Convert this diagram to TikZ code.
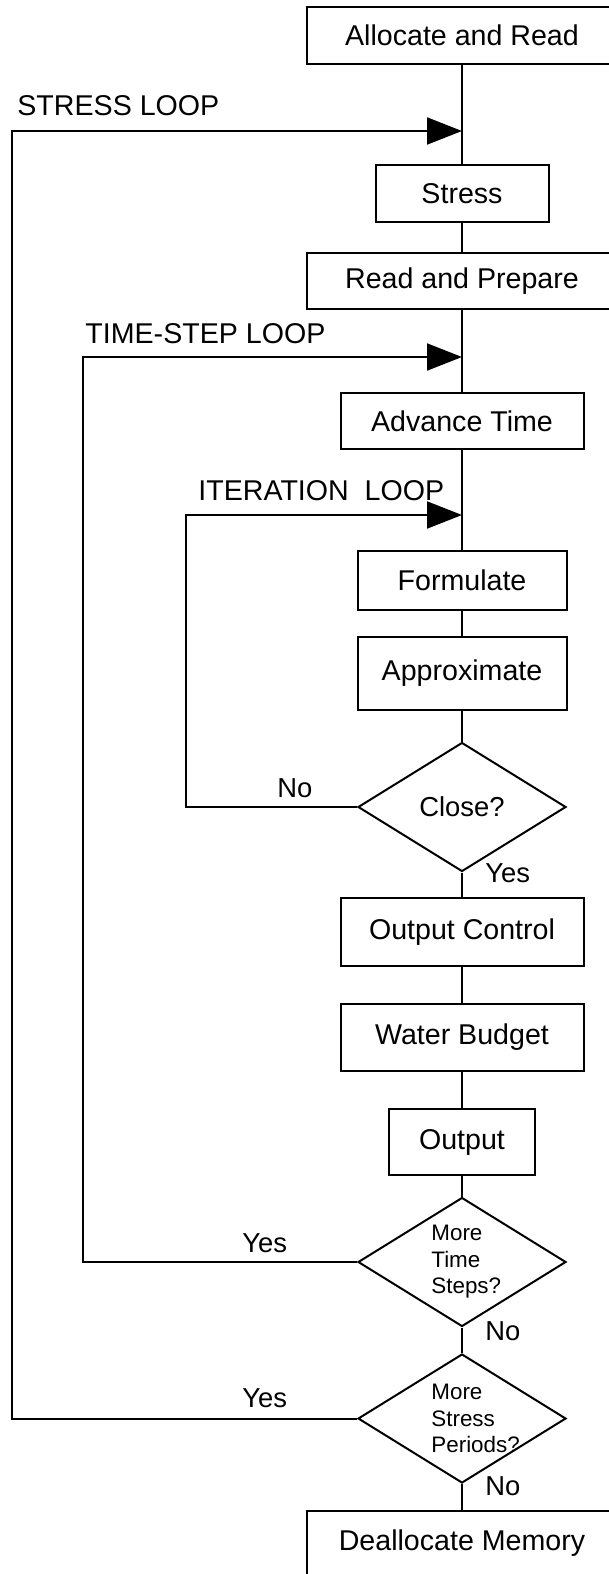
\documentclass[tikz,border=0pt]{standalone}
\usepackage{fontspec}
\setmainfont{Liberation Sans}
\usetikzlibrary{shapes.geometric,arrows.meta}

\def\bigtxt{\fontsize{14.3}{17}\selectfont}
\def\midtxt{\fontsize{13.7}{16}\selectfont}
\def\smalltxt{\fontsize{11.2}{13.25}\selectfont}

\tikzstyle{cbox}  = [draw, line width=1pt, inner sep=0pt, font=\bigtxt]
\tikzstyle{cdiam} = [diamond, draw, line width=1pt, inner sep=0pt, minimum width=104pt, minimum height=64.5pt, font=\midtxt]
\tikzstyle{cline} = [line width=1pt]
\tikzstyle{cloop} = [line width=1pt, -{Triangle[length=17.5pt,width=13.5pt]}]
\tikzstyle{ctag}  = [anchor=base west, inner sep=0pt]
\tikzstyle{cnote} = [anchor=west, inner sep=0pt, align=left, font=\smalltxt]

\begin{document}
\begin{tikzpicture}[x=0.5pt, y=-0.5pt]
  \useasboundingbox (0,0) rectangle (609,1574);
  \clip (0,0) rectangle (609,1574);

  % main column
  \node[cbox, minimum width=155pt,   minimum height=28.5pt] (alloc)     at (462,35.5)   {Allocate and Read};
  \node[cbox, minimum width=86.5pt,  minimum height=28.5pt] (stress)    at (462,193.5)  {Stress};
  \node[cbox, minimum width=155pt,   minimum height=28pt]   (prep)      at (462,281)    {Read and Prepare};
  \node[cbox, minimum width=121.5pt, minimum height=28pt]   (advance)   at (462,421)    {Advance Time};
  \node[cbox, minimum width=104.5pt, minimum height=29.5pt] (formulate) at (462,580.5)  {Formulate};
  \node[cbox, minimum width=104.5pt, minimum height=36.5pt] (approx)    at (462,673.5)  {Approximate};
  \node[cdiam] (close) at (462,807) {Close?};
  \node[cbox, minimum width=121.5pt, minimum height=34pt]   (outctl)    at (462,932)    {Output Control};
  \node[cbox, minimum width=121.5pt, minimum height=33.5pt] (budget)    at (462,1037.5) {Water Budget};
  \node[cbox, minimum width=73pt,    minimum height=33pt]   (output)    at (462,1142)   {Output};
  \node[cdiam] (steps)   at (462,1262) {};
  \node[cdiam] (periods) at (462,1418.5) {};
  \node[cbox, minimum width=155pt,   minimum height=32pt]   (dealloc)   at (462,1543)   {Deallocate Memory};

  \node[cnote] (stepstext)   at (431,1262)   {More\\Time\\Steps?};
  \node[cnote] (periodstext) at (431,1418.5) {More\\Stress\\Periods?};

  \foreach \a/\b in {alloc/stress, stress/prep, prep/advance, advance/formulate,
                     formulate/approx, approx/close, close/outctl, outctl/budget,
                     budget/output, output/steps, steps/periods, periods/dealloc}
    \draw[cline] (\a) -- (\b);

  % loops back to the main line
  \coordinate (stressin)   at (462,131);
  \coordinate (stressleft) at (12,131);
  \coordinate (stepin)     at (462,357);
  \coordinate (stepleft)   at (83,357);
  \coordinate (iterin)     at (462,515);
  \coordinate (iterleft)   at (186,515);

  \draw[cloop] (periods.west) -| (stressleft) -- (stressin);
  \draw[cloop] (steps.west)   -| (stepleft)   -- (stepin);
  \draw[cloop] (close.west)   -| (iterleft)   -- (iterin);

  \node[ctag, font=\bigtxt] (stresslbl) at (17,115)  {STRESS LOOP};
  \node[ctag, font=\bigtxt] (steplbl)   at (85,343)  {TIME-STEP LOOP};
  \node[ctag, font=\bigtxt] (iterlbl)   at (198,500) {ITERATION\ \ LOOP};

  \node[ctag, font=\midtxt] (noclose)    at (277,797)  {No};
  \node[ctag, font=\midtxt] (yesclose)   at (485,882)  {Yes};
  \node[ctag, font=\midtxt] (yessteps)   at (242,1252) {Yes};
  \node[ctag, font=\midtxt] (nosteps)    at (485,1340) {No};
  \node[ctag, font=\midtxt] (yesperiods) at (242,1407) {Yes};
  \node[ctag, font=\midtxt] (noperiods)  at (485,1495) {No};
\end{tikzpicture}
\end{document}
